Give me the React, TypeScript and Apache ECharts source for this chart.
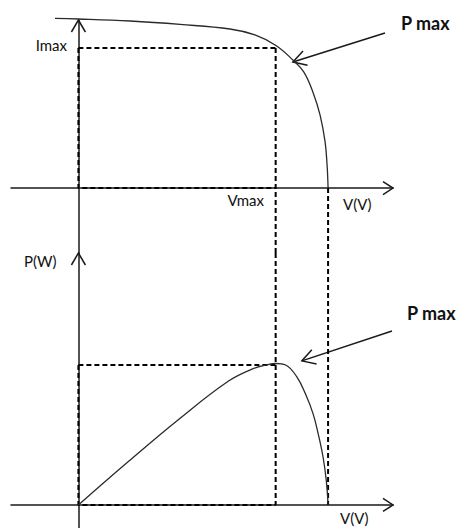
import React, { useEffect, useRef } from "react";
import * as echarts from "echarts";

// I-V curve (normalised: Voc = 1, Isc ~ 1)
const ivVoltage = [-0.094, 0, 0.207, 0.407, 0.607, 0.707, 0.791, 0.859, 0.903, 0.939, 0.968, 0.988, 0.996, 1.0];
const ivCurrent = [0.997, 0.994, 0.982, 0.962, 0.935, 0.9, 0.838, 0.753, 0.682, 0.565, 0.429, 0.271, 0.135, 0];
// P-V curve
const pvVoltage = [0, 0.2, 0.4, 0.6, 0.7, 0.76, 0.79, 0.83, 0.875, 0.91, 0.94, 0.96, 0.98, 0.993, 1.0];
const pvPower = [0, 0.2, 0.393, 0.57, 0.628, 0.647, 0.652, 0.645, 0.59, 0.51, 0.42, 0.33, 0.22, 0.11, 0];

const vMax = 0.79;
const iMax = 0.824;
const pMax = 0.645;
const vOc = 1.0;

// axis extents
const xMin = -0.27;
const xMax = 1.26;
const iAxisMin = -0.382;
const iAxisMax = 0.988;
const pAxisMin = -0.106;
const pAxisMax = 1.161;

// pointer arrows (data coordinates: [V, value])
const pointerTopFrom = [1.228, 0.912];
const pointerTopTo = [0.859, 0.741];
const pointerBottomFrom = [1.256, 0.802];
const pointerBottomTo = [0.895, 0.664];

const FONT = "Lato, 'Open Sans', sans-serif";
const INK = "#1a1a1a";

function zip(a: number[], b: number[]) {
  return a.map((v, i) => [v, b[i]]);
}

function chevron(tip: number[], tail: number[], L: number, W: number) {
  const dx = tip[0] - tail[0];
  const dy = tip[1] - tail[1];
  const len = Math.hypot(dx, dy) || 1;
  const ux = dx / len;
  const uy = dy / len;
  const nx = -uy;
  const ny = ux;
  const bx = tip[0] - L * ux;
  const by = tip[1] - L * uy;
  return [
    [bx + W * nx, by + W * ny],
    [tip[0], tip[1]],
    [bx - W * nx, by - W * ny],
  ];
}

export default function App() {
  const ref = useRef<HTMLDivElement>(null);
  useEffect(() => {
    if (!ref.current) return;
    const chart = echarts.init(ref.current, undefined, { renderer: "svg" });
    const axisLine = { show: true, onZero: true, lineStyle: { color: INK, width: 1.5 } };
    const hidden = {
      axisTick: { show: false },
      axisLabel: { show: false },
      splitLine: { show: false },
    };
    const dashed = (name: string, data: number[][], gi: number) => ({
      name,
      type: "line",
      xAxisIndex: gi,
      yAxisIndex: gi,
      data,
      symbol: "none",
      clip: false,
      silent: true,
      z: 3,
      lineStyle: { color: "#000", width: 2, type: [5, 3] },
    });
    chart.setOption({
      animation: false,
      grid: [
        { left: 11, top: 20, width: 382, height: 233 },
        { left: 11, top: 253, width: 382, height: 275 },
      ],
      xAxis: [
        { type: "value", gridIndex: 0, min: xMin, max: xMax, axisLine, ...hidden },
        { type: "value", gridIndex: 1, min: xMin, max: xMax, axisLine, ...hidden },
      ],
      yAxis: [
        { type: "value", gridIndex: 0, min: iAxisMin, max: iAxisMax, axisLine, ...hidden },
        { type: "value", gridIndex: 1, min: pAxisMin, max: pAxisMax, axisLine, ...hidden },
      ],
      series: [
        {
          name: "I-V",
          type: "line",
          xAxisIndex: 0,
          yAxisIndex: 0,
          data: zip(ivVoltage, ivCurrent),
          symbol: "none",
          smooth: 0.4,
          clip: false,
          z: 4,
          lineStyle: { color: "#2a2a2a", width: 1.3 },
        },
        {
          name: "P-V",
          type: "line",
          xAxisIndex: 1,
          yAxisIndex: 1,
          data: zip(pvVoltage, pvPower),
          symbol: "none",
          smooth: 0.4,
          clip: false,
          z: 4,
          lineStyle: { color: "#2a2a2a", width: 1.3 },
        },
        dashed("Imax", [[0, iMax], [vMax, iMax]], 0),
        dashed("Vmax top", [[vMax, iMax], [vMax, iAxisMin]], 0),
        dashed("axes top", [[0, iMax], [0, 0], [vMax, 0]], 0),
        dashed("Voc top", [[vOc, 0], [vOc, iAxisMin]], 0),
        dashed("Pmax", [[0, pMax], [vMax, pMax]], 1),
        dashed("Vmax bottom", [[vMax, pAxisMax], [vMax, 0]], 1),
        dashed("axes bottom", [[0, pMax], [0, 0], [vMax, 0]], 1),
        dashed("Voc bottom", [[vOc, pAxisMax], [vOc, 0]], 1),
      ],
    });

    const px = (gi: number, p: number[]) => chart.convertToPixel({ gridIndex: gi }, p) as number[];
    const arrowStyle = { stroke: INK, lineWidth: 1.5, fill: "none" };
    const elems: any[] = [];
    // axis arrowheads
    const yTop = px(0, [0, iAxisMax]);
    elems.push({ type: "polyline", shape: { points: chevron(yTop, [yTop[0], yTop[1] + 10], 12, 7) }, style: arrowStyle });
    const yBot = px(1, [0, pAxisMax]);
    elems.push({ type: "polyline", shape: { points: chevron(yBot, [yBot[0], yBot[1] + 10], 12, 7) }, style: arrowStyle });
    const xTop = px(0, [xMax, 0]);
    elems.push({ type: "polyline", shape: { points: chevron(xTop, [xTop[0] - 10, xTop[1]], 10, 6.5) }, style: arrowStyle });
    const xBot = px(1, [xMax, 0]);
    elems.push({ type: "polyline", shape: { points: chevron(xBot, [xBot[0] - 10, xBot[1]], 10, 6.5) }, style: arrowStyle });
    // pointer arrows
    const pointers: [number, number[], number[]][] = [
      [0, pointerTopFrom, pointerTopTo],
      [1, pointerBottomFrom, pointerBottomTo],
    ];
    pointers.forEach(([gi, from, to]) => {
      const a = px(gi, from);
      const b = px(gi, to);
      elems.push({ type: "line", shape: { x1: a[0], y1: a[1], x2: b[0], y2: b[1] }, style: arrowStyle });
      elems.push({ type: "polyline", shape: { points: chevron(b, a, 13, 7.5) }, style: arrowStyle });
    });
    const label = (text: string, x: number, y: number, align: string, bold = false, size = 15) => ({
      type: "text",
      x,
      y,
      style: {
        text,
        fill: "#111",
        font: `${bold ? "bold " : ""}${size}px ${FONT}`,
        align,
        verticalAlign: "middle",
      },
    });
    elems.push(label("P max", 401, 23, "left", true, 18));
    elems.push(label("P max", 407, 313, "left", true, 18));
    elems.push(label("Imax", 67, 45, "right"));
    elems.push(label("Vmax", 264, 200, "right"));
    elems.push(label("V(V)", 343, 204, "left"));
    elems.push(label("P(W)", 24, 261, "left"));
    elems.push(label("V(V)", 340, 518, "left"));
    chart.setOption({ graphic: { elements: elems } });

    return () => chart.dispose();
  }, []);
  return (
    <div
      ref={ref}
      style={{ position: "fixed", left: 0, top: 0, width: 460, height: 528, background: "#fff" }}
    />
  );
}
